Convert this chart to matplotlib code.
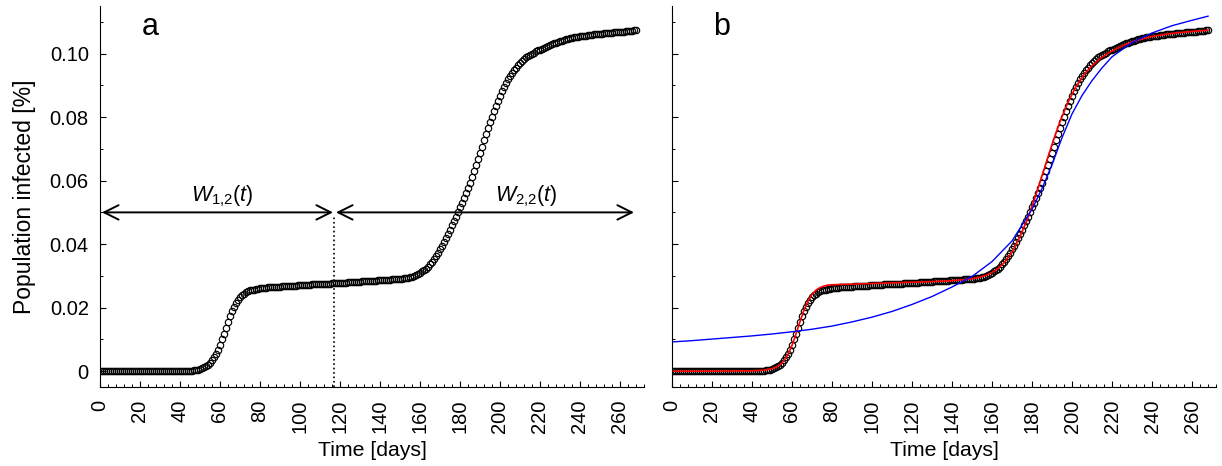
import numpy as np
import matplotlib.pyplot as plt
from matplotlib.ticker import MultipleLocator

plt.rcParams['font.family'] = ['Liberation Sans', 'DejaVu Sans']
plt.rcParams['mathtext.fontset'] = 'custom'
plt.rcParams['mathtext.rm'] = 'Liberation Sans'
plt.rcParams['mathtext.it'] = 'Liberation Sans:italic'

# observed fraction infected, one value per day (day 0 .. 268)
infected = [
    0.0000, 0.0000, 0.0000, 0.0000, 0.0000, 0.0000, 0.0000, 0.0000, 0.0000, 0.0000,
    0.0000, 0.0000, 0.0000, 0.0000, 0.0000, 0.0000, 0.0000, 0.0000, 0.0000, 0.0000,
    0.0000, 0.0000, 0.0000, 0.0000, 0.0000, 0.0000, 0.0000, 0.0000, 0.0000, 0.0000,
    0.0000, 0.0000, 0.0000, 0.0000, 0.0000, 0.0000, 0.0000, 0.0000, 0.0000, 0.0000,
    0.0000, 0.0001, 0.0001, 0.0001, 0.0001, 0.0002, 0.0002, 0.0003, 0.0004, 0.0005,
    0.0007, 0.0009, 0.0012, 0.0015, 0.0020, 0.0026, 0.0034, 0.0043, 0.0054, 0.0068,
    0.0083, 0.0100, 0.0118, 0.0137, 0.0156, 0.0173, 0.0189, 0.0203, 0.0214, 0.0224,
    0.0232, 0.0239, 0.0244, 0.0248, 0.0251, 0.0254, 0.0256, 0.0257, 0.0259, 0.0260,
    0.0261, 0.0262, 0.0263, 0.0263, 0.0264, 0.0264, 0.0265, 0.0265, 0.0265, 0.0266,
    0.0266, 0.0267, 0.0267, 0.0267, 0.0268, 0.0268, 0.0269, 0.0269, 0.0269, 0.0270,
    0.0270, 0.0271, 0.0271, 0.0271, 0.0272, 0.0272, 0.0273, 0.0273, 0.0273, 0.0274,
    0.0274, 0.0275, 0.0275, 0.0275, 0.0276, 0.0276, 0.0277, 0.0277, 0.0277, 0.0278,
    0.0278, 0.0279, 0.0279, 0.0279, 0.0280, 0.0280, 0.0281, 0.0281, 0.0281, 0.0282,
    0.0282, 0.0283, 0.0283, 0.0283, 0.0284, 0.0284, 0.0285, 0.0285, 0.0285, 0.0286,
    0.0286, 0.0287, 0.0287, 0.0287, 0.0288, 0.0288, 0.0289, 0.0289, 0.0289, 0.0290,
    0.0290, 0.0291, 0.0292, 0.0293, 0.0294, 0.0296, 0.0298, 0.0300, 0.0303, 0.0306,
    0.0310, 0.0314, 0.0318, 0.0323, 0.0329, 0.0336, 0.0344, 0.0353, 0.0363, 0.0373,
    0.0384, 0.0395, 0.0407, 0.0419, 0.0432, 0.0445, 0.0459, 0.0473, 0.0487, 0.0501,
    0.0516, 0.0531, 0.0546, 0.0562, 0.0578, 0.0594, 0.0611, 0.0629, 0.0648, 0.0667,
    0.0686, 0.0706, 0.0727, 0.0747, 0.0766, 0.0784, 0.0802, 0.0819, 0.0836, 0.0852,
    0.0867, 0.0881, 0.0895, 0.0908, 0.0919, 0.0929, 0.0939, 0.0948, 0.0956, 0.0964,
    0.0971, 0.0977, 0.0983, 0.0988, 0.0992, 0.0996, 0.1000, 0.1003, 0.1007, 0.1010,
    0.1013, 0.1016, 0.1019, 0.1022, 0.1025, 0.1028, 0.1031, 0.1033, 0.1035, 0.1037,
    0.1039, 0.1041, 0.1043, 0.1045, 0.1046, 0.1048, 0.1049, 0.1051, 0.1052, 0.1053,
    0.1054, 0.1055, 0.1056, 0.1057, 0.1058, 0.1059, 0.1060, 0.1061, 0.1061, 0.1062,
    0.1063, 0.1063, 0.1064, 0.1065, 0.1065, 0.1066, 0.1066, 0.1067, 0.1067, 0.1068,
    0.1068, 0.1069, 0.1069, 0.1070, 0.1070, 0.1071, 0.1072, 0.1073, 0.1074,
]
days = np.arange(len(infected))

# two-wave fit (red)
red_days = [0, 20, 40, 46, 50, 52, 54, 56, 58, 60, 62, 64, 66, 68, 70, 72, 74, 76,
            78, 80, 84, 90, 100, 110, 120, 130, 140, 146, 150, 154, 158, 162, 166,
            170, 174, 178, 182, 186, 190, 194, 198, 202, 206, 210, 214, 218, 222,
            226, 230, 236, 240, 250, 260, 268]
red_vals = [0.0000, 0.0000, 0.0001, 0.0003, 0.0008, 0.0012, 0.0020, 0.0033, 0.0053,
            0.0081, 0.0117, 0.0156, 0.0192, 0.0221, 0.0242, 0.0255, 0.0263, 0.0268,
            0.0271, 0.0272, 0.0273, 0.0274, 0.0276, 0.0278, 0.0280, 0.0282, 0.0285,
            0.0288, 0.0291, 0.0296, 0.0304, 0.0318, 0.0341, 0.0375, 0.0423, 0.0484,
            0.0556, 0.0635, 0.0714, 0.0786, 0.0847, 0.0896, 0.0934, 0.0962, 0.0984,
            0.1001, 0.1015, 0.1027, 0.1037, 0.1048, 0.1054, 0.1064, 0.1070, 0.1074]

# single-wave fit (blue)
blue_days = [0, 10, 20, 30, 40, 50, 60, 70, 80, 90, 100, 110, 120, 130, 140, 150,
             160, 170, 180, 185, 190, 195, 200, 205, 210, 215, 220, 230, 240, 250,
             260, 268]
blue_vals = [0.0092, 0.0096, 0.0101, 0.0106, 0.0111, 0.0117, 0.0124, 0.0132, 0.0142,
             0.0155, 0.0170, 0.0188, 0.0210, 0.0235, 0.0265, 0.0298, 0.0345, 0.0410,
             0.0510, 0.0575, 0.0650, 0.0735, 0.0810, 0.0868, 0.0915, 0.0955, 0.0990,
             0.1035, 0.1065, 0.1088, 0.1105, 0.1118]

split_day = 117
arrow_y = 0.05
yticks = [0, 0.02, 0.04, 0.06, 0.08, 0.10]
ytick_labels = ['0', '0.02', '0.04', '0.06', '0.08', '0.10']

fig = plt.figure(figsize=(12.22, 4.66), dpi=100)
ax1 = fig.add_axes([0.0818, 0.1695, 0.4452, 0.8176])
ax2 = fig.add_axes([0.5499, 0.1695, 0.4452, 0.8176])

for ax in (ax1, ax2):
    ax.plot(days, infected, 'o', ms=4.6, mfc='none', mec='k', mew=0.85)
    ax.set_xlim(0, 272)
    ax.set_ylim(-0.005, 0.115)
    ax.spines['top'].set_visible(False)
    ax.spines['right'].set_visible(False)
    ax.set_xticks(np.arange(0, 261, 20))
    ax.xaxis.set_minor_locator(MultipleLocator(4))
    ax.yaxis.set_minor_locator(MultipleLocator(0.01))
    ax.set_yticks(yticks)
    ax.tick_params(which='both', direction='in', top=False, right=False)
    ax.tick_params(which='major', length=4, width=0.8)
    ax.tick_params(which='minor', length=2.5, width=0.7)
    ax.tick_params(axis='x', labelrotation=90, labelsize=14.5, pad=9)
    ax.tick_params(axis='y', labelsize=14.5, pad=8)
    ax.set_xlabel('Time [days]', fontsize=15.3, labelpad=6)

ax1.set_yticklabels(ytick_labels)
ax1.set_ylabel('Population infected [%]', fontsize=16.5, labelpad=10)
ax2.set_yticklabels([])

# panel a: window arrows
ax1.plot([split_day, split_day], [-0.005, 0.049], ':', color='k', lw=1.2)
ax1.annotate('', xy=(1, arrow_y), xytext=(116.5, arrow_y),
             arrowprops=dict(arrowstyle='<->', lw=1.4, color='k',
                             mutation_scale=26, shrinkA=0, shrinkB=0))
ax1.annotate('', xy=(118, arrow_y), xytext=(267, arrow_y),
             arrowprops=dict(arrowstyle='<->', lw=1.4, color='k',
                             mutation_scale=26, shrinkA=0, shrinkB=0))
ax1.text(61, arrow_y + 0.0012, r'$\mathit{W_{1{,}2}(t)}$', fontsize=15.5,
         ha='center', va='bottom')
ax1.text(213, arrow_y + 0.0012, r'$\mathit{W_{2{,}2}(t)}$', fontsize=15.5,
         ha='center', va='bottom')
ax1.text(25, 0.1085, 'a', fontsize=22, ha='center', va='center')

# panel b: fits
ax2.plot(red_days, red_vals, '-', color='r', lw=1.2)
ax2.plot(blue_days, blue_vals, '-', color='b', lw=1.0)
ax2.text(25, 0.1085, 'b', fontsize=22, ha='center', va='center')

fig.savefig('out.png', dpi=100)
